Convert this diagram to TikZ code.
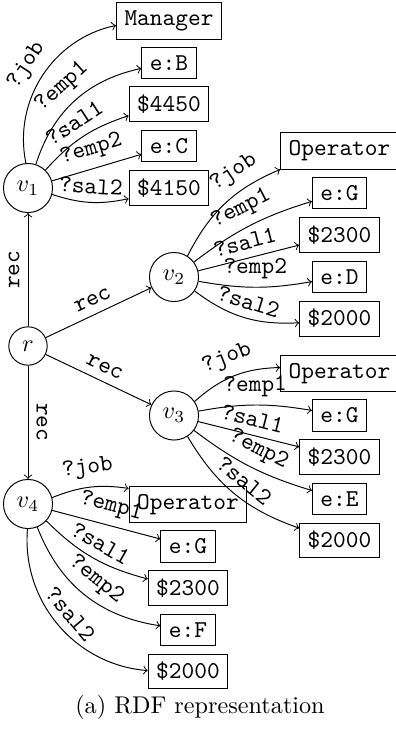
\documentclass[tikz,border=0pt]{standalone}
\begin{document}
\begin{tikzpicture}[x=0.4132pt, y=-0.4132pt,
  ent/.style={circle, draw},
  val/.style={draw, font=\ttfamily},
  lbl/.style={sloped, above, font=\ttfamily},
  link/.style={->}]
\useasboundingbox (0,0) rectangle (396,734);

% resources
\node[ent] (r)  at (28,346)    {$r$};
\node[ent] (v1) at (28,188)    {$v_1$};
\node[ent] (v2) at (174,277)   {$v_2$};
\node[ent] (v3) at (174,415.5) {$v_3$};
\node[ent] (v4) at (28,504)    {$v_4$};

% literal values of v1
\node[val] (a1) at (169,21)    {Manager};
\node[val] (a2) at (169,62.7)  {e:B};
\node[val] (a3) at (169,104.4) {\$4450};
\node[val] (a4) at (169,146.1) {e:C};
\node[val] (a5) at (169,187.8) {\$4150};

% literal values of v2
\node[val] (b1) at (339.5,151)   {Operator};
\node[val] (b2) at (339.5,192.9) {e:G};
\node[val] (b3) at (339.5,234.8) {\$2300};
\node[val] (b4) at (339.5,276.7) {e:D};
\node[val] (b5) at (339.5,318.6) {\$2000};

% literal values of v3
\node[val] (c1) at (339.5,373.5) {Operator};
\node[val] (c2) at (339.5,415.3) {e:G};
\node[val] (c3) at (339.5,457)   {\$2300};
\node[val] (c4) at (339.5,498.8) {e:E};
\node[val] (c5) at (339.5,540.5) {\$2000};

% literal values of v4
\node[val] (d1) at (188,504.5) {Operator};
\node[val] (d2) at (188,546.3) {e:G};
\node[val] (d3) at (188,588)   {\$2300};
\node[val] (d4) at (188,629.8) {e:F};
\node[val] (d5) at (188,671.5) {\$2000};

% rec links
\path (r) edge[link] node[lbl]{rec} (v1)
          edge[link] node[lbl]{rec} (v2)
          edge[link] node[lbl]{rec} (v3)
          edge[link] node[lbl]{rec} (v4);

% properties
\path (v1) edge[link, bend left=45]  node[lbl]{?job}  (a1)
           edge[link, bend left=30]  node[lbl]{?emp1} (a2)
           edge[link, bend left=15]  node[lbl]{?sal1} (a3)
           edge[link]                node[lbl]{?emp2} (a4)
           edge[link, bend right=15] node[lbl]{?sal2} (a5);

\path (v2) edge[link, bend left=20]  node[lbl, pos=0.7]{?job}  (b1)
           edge[link, bend left=10]  node[lbl]{?emp1} (b2)
           edge[link]                node[lbl]{?sal1} (b3)
           edge[link, bend right=10] node[lbl]{?emp2} (b4)
           edge[link, bend right=20] node[lbl]{?sal2} (b5);

\path (v3) edge[link, bend left=20]  node[lbl]{?job}  (c1)
           edge[link, bend left=10]  node[lbl]{?emp1} (c2)
           edge[link]                node[lbl]{?sal1} (c3)
           edge[link, bend right=10] node[lbl]{?emp2} (c4)
           edge[link, bend right=20] node[lbl]{?sal2} (c5);

\path (v4) edge[link, bend left=15]  node[lbl]{?job}  (d1)
           edge[link]                node[lbl]{?emp1} (d2)
           edge[link, bend right=15] node[lbl]{?sal1} (d3)
           edge[link, bend right=30] node[lbl]{?emp2} (d4)
           edge[link, bend right=45] node[lbl]{?sal2} (d5);

\node[anchor=base] (cap) at (200,713) {(a) RDF representation};
\end{tikzpicture}
\end{document}
